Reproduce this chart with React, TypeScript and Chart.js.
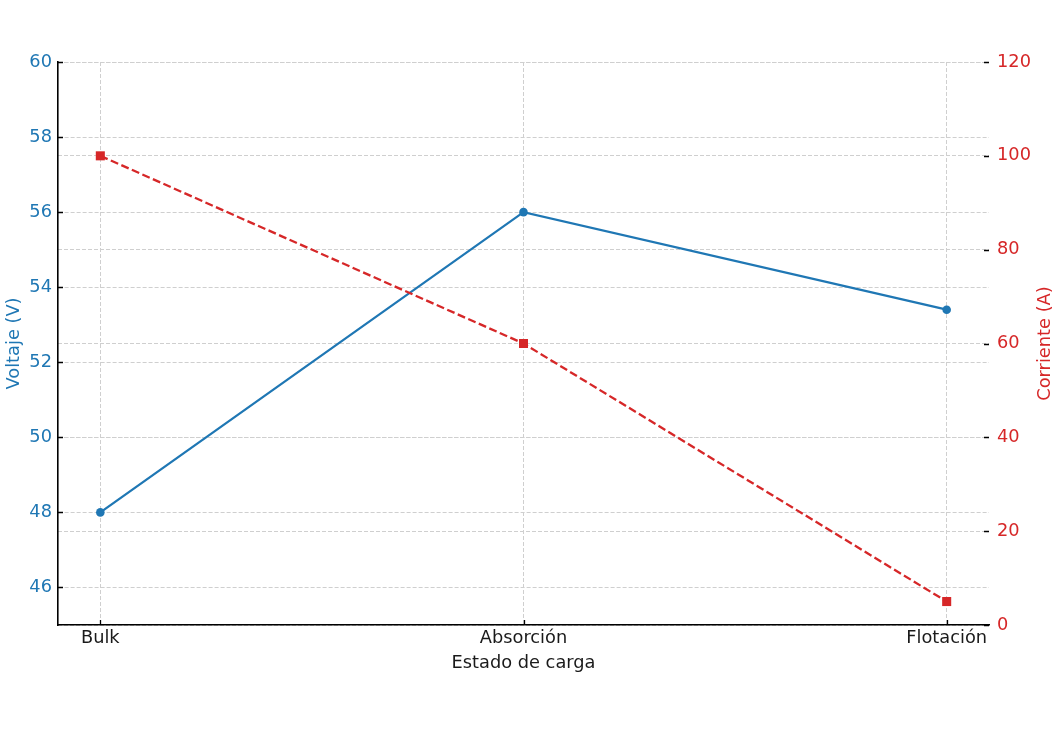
import { useEffect, useRef } from 'react';
import { Chart, registerables } from 'chart.js';

Chart.register(...registerables);

const categories = ['Bulk', 'Absorción', 'Flotación'];
const voltage = [48, 56, 53.4];
const current = [100, 60, 5];
const voltageTicks = [46, 48, 50, 52, 54, 56, 58, 60];
const currentTicks = [0, 20, 40, 60, 80, 100, 120];
const categoryTicks = [0, 1, 2];

const BLUE = '#1f77b4';
const RED = '#d62728';
const TEXT = '#1a1a1a';
const GRID = '#cfcfcf';
const FONT = '"DejaVu Sans", sans-serif';
const FS = 17.8;

const W = 1060;
const H = 736;
const PLOT_LEFT = 58;
const PLOT_RIGHT = 989;
const PLOT_TOP = 62;
const PLOT_BOTTOM = 625;

const decorPlugin = {
  id: 'decor',
  afterDraw(chart: any) {
    const ctx = chart.ctx;
    const area = chart.chartArea;
    const xs = chart.scales.x;
    const yl = chart.scales.y;
    const yr = chart.scales.y1;
    ctx.save();
    ctx.strokeStyle = '#000';
    ctx.lineWidth = 1.3;
    ctx.setLineDash([]);
    ctx.beginPath();
    for (const v of voltageTicks) {
      const p = Math.round(yl.getPixelForValue(v)) + 0.5;
      ctx.moveTo(area.left, p);
      ctx.lineTo(area.left + 5, p);
    }
    for (const v of currentTicks) {
      const p = Math.round(yr.getPixelForValue(v)) + 0.5;
      ctx.moveTo(area.right - 5, p);
      ctx.lineTo(area.right, p);
    }
    for (const v of categoryTicks) {
      const p = Math.round(xs.getPixelForValue(v)) + 0.5;
      ctx.moveTo(p, area.bottom);
      ctx.lineTo(p, area.bottom - 5);
    }
    ctx.stroke();

    ctx.font = `${FS}px ${FONT}`;
    ctx.textAlign = 'center';
    ctx.fillStyle = TEXT;
    ctx.textBaseline = 'alphabetic';
    ctx.fillText('Estado de carga', (area.left + area.right) / 2, 668);
    const cy = (area.top + area.bottom) / 2;
    ctx.textBaseline = 'middle';
    ctx.save();
    ctx.translate(14, cy);
    ctx.rotate(-Math.PI / 2);
    ctx.fillStyle = BLUE;
    ctx.fillText('Voltaje (V)', 0, 0);
    ctx.restore();
    ctx.save();
    ctx.translate(1045, cy);
    ctx.rotate(-Math.PI / 2);
    ctx.fillStyle = RED;
    ctx.fillText('Corriente (A)', 0, 0);
    ctx.restore();
    ctx.restore();
  },
};

export default function App() {
  const ref = useRef<HTMLCanvasElement | null>(null);

  useEffect(() => {
    document.body.style.margin = '0';
    const canvas = ref.current;
    if (!canvas) return;
    const chart = new Chart(canvas, {
      type: 'line',
      data: {
        datasets: [
          {
            label: 'Voltaje (V)',
            data: voltage.map((v, i) => ({ x: i, y: v })),
            yAxisID: 'y',
            borderColor: BLUE,
            backgroundColor: BLUE,
            borderWidth: 2.3,
            pointRadius: 4.3,
            pointHoverRadius: 4.3,
            pointStyle: 'circle',
            pointBorderWidth: 0,
            tension: 0,
            order: 2,
          },
          {
            label: 'Corriente (A)',
            data: current.map((v, i) => ({ x: i, y: v })),
            yAxisID: 'y1',
            borderColor: RED,
            backgroundColor: RED,
            borderWidth: 2.3,
            borderDash: [8, 3.5],
            pointRadius: 6.4,
            pointHoverRadius: 6.4,
            pointStyle: 'rect',
            pointBorderWidth: 0,
            tension: 0,
            order: 1,
          },
        ],
      },
      options: {
        responsive: false,
        animation: false,
        devicePixelRatio: 1,
        layout: { padding: { top: PLOT_TOP, left: 0, right: 0, bottom: 0 } },
        plugins: {
          legend: { display: false },
          tooltip: { enabled: false },
          title: { display: false },
        },
        scales: {
          x: {
            type: 'linear',
            position: 'bottom',
            min: -0.1,
            max: 2.1,
            afterBuildTicks: (scale: any) => {
              scale.ticks = categoryTicks.map((v) => ({ value: v }));
            },
            afterFit: (scale: any) => {
              scale.height = H - PLOT_BOTTOM;
            },
            ticks: {
              callback: (v: any) => categories[Math.round(Number(v))] ?? '',
              color: TEXT,
              font: { family: FONT, size: FS },
              padding: 3,
              maxRotation: 0,
              autoSkip: false,
            },
            grid: {
              color: GRID,
              lineWidth: 1,
              drawTicks: false,
            },
            border: { display: true, color: '#000', width: 1.6, dash: [4, 2] },
            title: { display: false },
          },
          y: {
            type: 'linear',
            position: 'left',
            min: 45,
            max: 60,
            afterBuildTicks: (scale: any) => {
              scale.ticks = voltageTicks.map((v) => ({ value: v }));
            },
            afterFit: (scale: any) => {
              scale.width = PLOT_LEFT;
            },
            ticks: {
              color: BLUE,
              font: { family: FONT, size: FS },
              padding: 6,
            },
            grid: {
              color: GRID,
              lineWidth: 1,
              drawTicks: false,
            },
            border: { display: true, color: '#000', width: 1.6, dash: [4, 2] },
            title: { display: false },
          },
          y1: {
            type: 'linear',
            position: 'right',
            min: 0,
            max: 120,
            afterBuildTicks: (scale: any) => {
              scale.ticks = currentTicks.map((v) => ({ value: v }));
            },
            afterFit: (scale: any) => {
              scale.width = W - PLOT_RIGHT;
            },
            ticks: {
              color: RED,
              font: { family: FONT, size: FS },
              padding: 8,
            },
            grid: {
              color: GRID,
              lineWidth: 1,
              drawTicks: false,
            },
            border: { display: false, dash: [4, 2] },
            title: { display: false },
          },
        },
      },
      plugins: [decorPlugin],
    } as any);
    return () => chart.destroy();
  }, []);

  return (
    <div style={{ width: W, height: H }}>
      <canvas ref={ref} width={W} height={H} style={{ display: 'block', width: W, height: H }} />
    </div>
  );
}
